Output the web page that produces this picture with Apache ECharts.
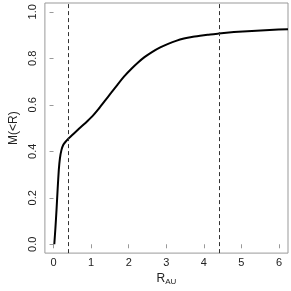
<!DOCTYPE html>
<html><head><meta charset="utf-8">
<script src="https://cdn.jsdelivr.net/npm/echarts@6/dist/echarts.min.js"></script>
<style>html,body{margin:0;padding:0;background:#fff}#c{width:291px;height:291px}</style>
</head><body><div id="c"></div>
<script>
var rValues = [0.02,0.05,0.08,0.11,0.14,0.17,0.21,0.26,0.32,0.40,0.55,0.69,0.85,1.03,1.20,1.36,1.53,1.70,1.88,2.08,2.25,2.42,2.63,2.84,3.05,3.26,3.47,3.68,3.90,4.10,4.40,4.80,5.28,5.75,6.24];
var mValues = [0.0,0.07,0.15,0.24,0.32,0.37,0.405,0.428,0.441,0.455,0.478,0.499,0.522,0.550,0.582,0.616,0.651,0.686,0.722,0.756,0.782,0.805,0.828,0.847,0.862,0.875,0.885,0.892,0.897,0.901,0.907,0.913,0.918,0.922,0.925];
var vLines = [0.40, 4.41];
var xTicks = [0,1,2,3,4,5,6];
var yTicks = [0,0.2,0.4,0.6,0.8,1.0];

var data = rValues.map(function(r,i){return [r,mValues[i]];});
var font = 'Liberation Sans, Arial, sans-serif';
var chart = echarts.init(document.getElementById('c'));
chart.setOption({
  animation:false,
  grid:{left:32,top:3,width:256,height:256,show:true,borderColor:'#999',borderWidth:1,backgroundColor:'transparent'},
  xAxis:{type:'value',min:-0.23,max:6.24,
    axisLine:{show:false},
    splitLine:{show:false},
    axisTick:{show:true,length:4,customValues:xTicks,lineStyle:{color:'#999'}},
    axisLabel:{customValues:xTicks,margin:4,color:'#222',fontFamily:font,fontSize:11,formatter:function(v){return String(v);}},
    name:'{a|R}{b|AU}',nameLocation:'middle',nameGap:15,
    nameTextStyle:{rich:{a:{fontSize:12,color:'#222',fontFamily:font},b:{fontSize:8,color:'#222',fontFamily:font,verticalAlign:'bottom',padding:[6,0,0,0]}}}
  },
  yAxis:{type:'value',min:-0.038,max:1.038,
    axisLine:{show:false},
    splitLine:{show:false},
    axisTick:{show:true,length:4,customValues:yTicks,lineStyle:{color:'#999'}},
    axisLabel:{customValues:yTicks,rotate:90,margin:6,color:'#222',fontFamily:font,fontSize:11,formatter:function(v){return v.toFixed(1);}},
    name:'M(<R)',nameLocation:'middle',nameGap:23,nameRotate:90,
    nameTextStyle:{fontSize:12,color:'#222',fontFamily:font}
  },
  series:[{
    type:'line',data:data,showSymbol:false,smooth:0.2,
    lineStyle:{color:'#000',width:2},
    markLine:{silent:true,symbol:['none','none'],label:{show:false},
      lineStyle:{type:[4,3],color:'#333',width:1},
      data:vLines.map(function(v){return {xAxis:v};})}
  }]
});
</script></body></html>
